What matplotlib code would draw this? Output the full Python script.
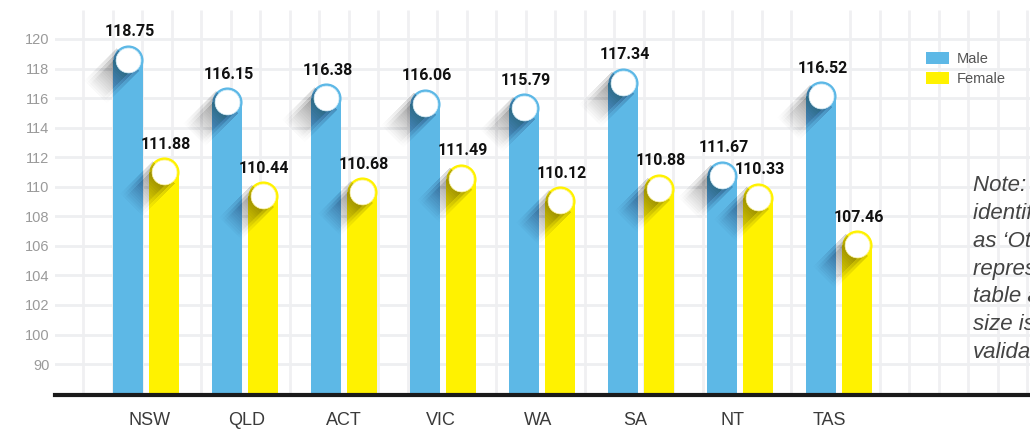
import numpy as np
import matplotlib
matplotlib.use("Agg")
import matplotlib.pyplot as plt
from matplotlib.patches import Polygon, Patch
from matplotlib.transforms import Affine2D, ScaledTranslation

# data
states = ["NSW", "QLD", "ACT", "VIC", "WA", "SA", "NT", "TAS"]
male = [118.75, 116.15, 116.38, 116.06, 115.79, 117.34, 111.67, 116.52]
female = [111.88, 110.44, 110.68, 111.49, 110.12, 110.88, 110.33, 107.46]
ytick_labels = ["120", "118", "116", "114", "112", "110", "108", "106",
                "104", "102", "100", "90"]
note_lines = ["Note: Those who", "identified their gender", "as \u2018Other\u2019 are not",
              "represented in this", "table as the sample", "size is too small for",
              "validation."]

BLUE = "#5db8e6"
YELLOW = "#fff200"
W, H = 1030, 430

fig = plt.figure(figsize=(W / 100, H / 100), dpi=100)

# background grid (vertical lines, pixel coordinates)
bg = fig.add_axes([0, 0, 1, 1], zorder=0)
bg.set_xlim(0, W)
bg.set_ylim(H, 0)
bg.axis("off")
vx = [83 + 29.5 * k for k in range(33) if k != 25]
bg.vlines(vx, 10, 395, color="#f0f0f2", lw=2)

# main axes: left edge 55 px, baseline 395 px
ax = fig.add_axes([55 / W, 35 / H, 975 / W, 395 / H], zorder=1)
ax.patch.set_visible(False)
px_per_unit = 29.55 / 1.8
ylo = 120 - (395 - 39) / px_per_unit
yhi = 120 + 39 / px_per_unit
ax.set_ylim(ylo, yhi)
ax.set_xlim(-91 / 99, (W - 146) / 99)

yt = 120 - 1.8 * np.arange(len(ytick_labels))
ax.set_yticks(yt)
ax.set_yticklabels(ytick_labels, fontsize=10.5, color="#9a9a9a", family="Liberation Sans")
ax.grid(axis="y", color="#eeeff1", lw=2)
ax.set_axisbelow(True)
ax.tick_params(length=0)
ax.tick_params(axis="y", pad=4)
ax.tick_params(axis="x", pad=12)

x = np.arange(len(states))
ax.set_xticks(x * 0.98 + 0.04)
ax.set_xticklabels(states, fontsize=13, color="#3a3a3a", family="Liberation Sans")

for s in ["top", "right", "left"]:
    ax.spines[s].set_visible(False)
ax.spines["bottom"].set_linewidth(3)
ax.spines["bottom"].set_color("#1a1a1a")
ax.spines["bottom"].set_zorder(6)

off = 18 / 99
bw = 29.5 / 99


def add_shadow(xc, yc, r=15, length=46, steps=20, a=0.009):
    # long soft shadow going down-left from the circle
    tr = Affine2D() + ScaledTranslation(xc, yc, ax.transData)
    d = np.array([-1.0, -1.0]) / np.sqrt(2)
    n = np.array([1.0, -1.0]) / np.sqrt(2)
    for w in (r * 1.05, r * 0.85, r * 0.65):
        for i in range(1, steps + 1):
            t1 = length * i / steps
            pts = [-w * n, w * n, t1 * d + w * n, t1 * d - w * n]
            ax.add_patch(Polygon(pts, closed=True, transform=tr, facecolor="black",
                                 edgecolor="none", alpha=a, zorder=3))


for vals, dx, col in ((male, -off, BLUE), (female, off, YELLOW)):
    vals = np.array(vals)
    xs = x + dx
    ax.bar(xs, vals - ylo, bottom=ylo, width=bw, color=col, zorder=2)
    ax.scatter(xs, vals, s=470, color=col, linewidths=0, zorder=2)
    for xi, v in zip(xs, vals):
        add_shadow(xi, v)
        ax.annotate(f"{v:.2f}", (xi, v), xytext=(1, 20), textcoords="offset points",
                    ha="center", va="center", fontsize=11.5, fontweight="bold",
                    color="#111111", family="Roboto", zorder=5)
    ax.scatter(xs, vals, s=320, color="white", edgecolors="#d5eef9" if col == BLUE else "#fff6a0",
               linewidths=0.5, zorder=4)

handles = [Patch(facecolor=BLUE, label="Male"), Patch(facecolor=YELLOW, label="Female")]
leg = ax.legend(handles=handles, loc="upper left", bbox_to_anchor=(926 / W, 1 - 52 / H),
                bbox_transform=fig.transFigure, frameon=False, prop={"family": "Liberation Sans", "size": 10.5},
                handlelength=1.6, handleheight=0.9, handletextpad=0.5, labelspacing=0.4,
                borderpad=0, borderaxespad=0)
for t in leg.get_texts():
    t.set_color("#555555")

for i, line in enumerate(note_lines):
    fig.text(973 / W, 1 - (186 + 27.7 * i) / H, line, ha="left", va="center",
             fontsize=16, style="italic", color="#444444", family="Liberation Sans")

fig.savefig("out.png", dpi=100)
